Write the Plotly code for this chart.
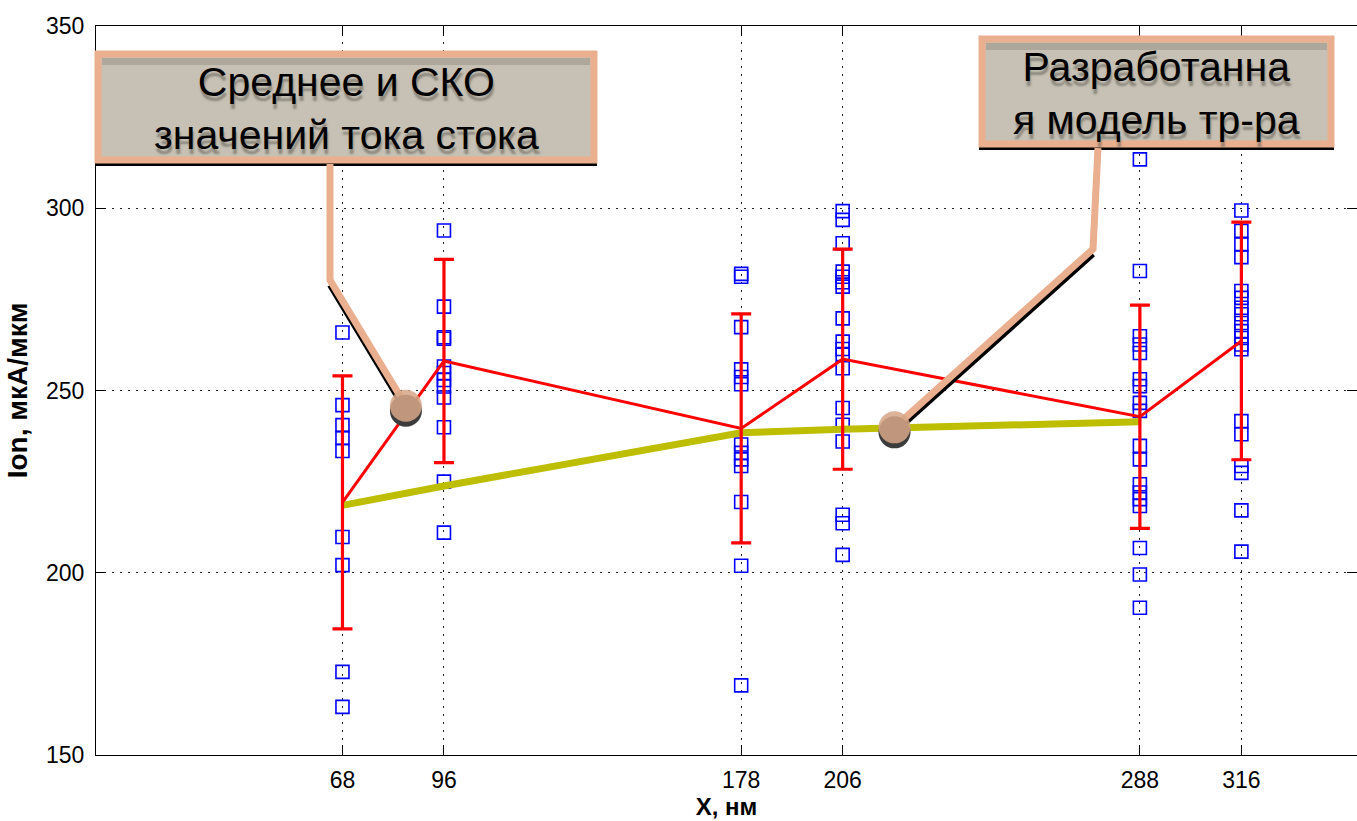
import plotly.graph_objects as go

# ---- data -------------------------------------------------------------
x_nm = [68, 96, 178, 206, 288, 316]

# measured Ion samples (mkA/mkm) for every gate position
ion_68 = [265.9, 246.0, 240.5, 237.0, 233.4, 209.8, 202.1, 172.8, 163.2]
ion_96 = [293.9, 273.0, 264.6, 264.2, 256.6, 254.8, 252.9, 251.1, 248.1,
          239.9, 225.0, 211.0]
ion_178 = [282.0, 281.2, 267.4, 255.8, 253.7, 251.7, 235.2, 232.9, 231.1,
           229.3, 219.4, 201.9, 169.1]
ion_206 = [299.2, 296.8, 290.4, 282.6, 281.2, 279.7, 278.5, 269.8, 263.4,
           261.4, 260.0, 256.1, 245.2, 240.6, 236.0, 215.9, 213.6, 204.9]
ion_288 = [313.4, 282.8, 264.9, 262.6, 260.3, 253.1, 251.2, 246.6, 244.4,
           234.8, 231.1, 224.3, 222.0, 220.2, 218.3, 206.8, 199.5, 190.4]
ion_316 = [299.4, 293.8, 290.1, 286.6, 277.3, 275.4, 272.7, 270.9, 268.5,
           266.3, 264.4, 262.6, 261.3, 241.6, 238.0, 229.3, 227.4, 217.1,
           205.8]
samples = [ion_68, ion_96, ion_178, ion_206, ion_288, ion_316]

# mean and standard deviation of the drain current
ion_mean = [219.3, 258.1, 239.6, 258.6, 242.8, 263.6]
ion_sd = [34.7, 27.9, 31.4, 30.2, 30.6, 32.6]

# developed transistor model
model_x = [68, 96, 178, 206, 288]
model_ion = [218.5, 223.8, 238.4, 239.4, 241.4]

x_ticks = [68, 96, 178, 206, 288, 316]
y_ticks = [150, 200, 250, 300, 350]

callout_mean = ["Среднее и СКО", "значений тока стока"]
callout_model = ["Разработанна", "я модель тр-ра"]

# ---- geometry of the plotting area -----------------------------------
W, H = 1357, 821
L, T, B, R = 96, 26, 66, 0
PW, PH = W - L - R, H - T - B
X_RANGE = [0, 347.9]
Y_RANGE = [150, 350]


def paper(px, py):
    """Window pixel -> paper coordinates."""
    return (px - L) / PW, (T + PH - py) / PH


def pix(xv, yv):
    """Data value -> window pixel."""
    px = L + (xv - X_RANGE[0]) / (X_RANGE[1] - X_RANGE[0]) * PW
    py = T + PH - (yv - Y_RANGE[0]) / (Y_RANGE[1] - Y_RANGE[0]) * PH
    return px, py


fig = go.Figure()

# individual samples
sx, sy = [], []
for xv, vals in zip(x_nm, samples):
    sx += [xv] * len(vals)
    sy += vals
fig.add_trace(go.Scatter(
    x=sx, y=sy, mode="markers",
    marker=dict(symbol="square-open", size=13, color="#0000FF",
                line=dict(width=1.6, color="#0000FF")),
    showlegend=False, hoverinfo="x+y"))

# model curve
fig.add_trace(go.Scatter(
    x=model_x, y=model_ion, mode="lines",
    line=dict(color="#BEBE00", width=7),
    showlegend=False))

# mean +/- SD
fig.add_trace(go.Scatter(
    x=x_nm, y=ion_mean, mode="lines",
    line=dict(color="#FF0000", width=3),
    error_y=dict(type="data", array=ion_sd, visible=True,
                 color="#FF0000", thickness=3.2, width=10),
    showlegend=False))

shapes = []
annotations = []


def rect(x0, y0, x1, y1, **kw):
    a, b = paper(x0, y1)
    c, d = paper(x1, y0)
    shapes.append(dict(type="rect", xref="paper", yref="paper",
                       x0=a, y0=b, x1=c, y1=d, layer="above", **kw))


def path(points, color, width):
    pts = [paper(px, py) for px, py in points]
    p = "M " + " L ".join(f"{a:.5f},{b:.5f}" for a, b in pts)
    shapes.append(dict(type="path", xref="paper", yref="paper", path=p,
                       line=dict(color=color, width=width), layer="above"))


def circle(cx, cy, r, **kw):
    a, b = paper(cx - r, cy + r)
    c, d = paper(cx + r, cy - r)
    shapes.append(dict(type="circle", xref="paper", yref="paper",
                       x0=a, y0=b, x1=c, y1=d, layer="above", **kw))


def callout(box, lines, text_mid, elbow, target):
    x0, y0, x1, y1 = box
    # drop shadow under the box
    rect(x0 - 3, y1 - 4, x1 + 3, y1 + 6, fillcolor="#000000",
         line=dict(width=0))
    # box body with tan frame
    rect(x0, y0, x1, y1, fillcolor="#C6C1B4",
         line=dict(color="#E9AF8E", width=7))
    rect(x0 + 4, y0 + 4, x1 - 4, y0 + 11, fillcolor="#ADA79C",
         line=dict(width=0))
    px, py = paper((x0 + x1) / 2, text_mid)
    annotations.append(dict(
        text="<br>".join(lines), x=px, y=py, xref="paper", yref="paper",
        xanchor="center", yanchor="middle", showarrow=False, align="center",
        font=dict(family="Liberation Sans, Arial, sans-serif", size=41,
                  color="#000000",
                  shadow="1px 5px 2px rgba(95,90,82,0.55)")))
    # leader line: from box bottom to elbow, then to the target point
    tx, ty = target
    start = (elbow[0] + (elbow[2] if len(elbow) > 2 else 0), y1 + 4)
    pts = [start, (elbow[0], elbow[1]), (tx, ty)]
    path([(p[0], p[1] + 5) for p in pts[1:]], "#000000", 6)
    path(pts, "#E9AF8E", 7)
    circle(tx, ty + 5, 16, fillcolor="#3C3C3C", line=dict(width=0))
    circle(tx, ty, 16, fillcolor="rgba(214,166,136,0.86)",
           line=dict(width=0))


# callout for the measured statistics (points at the 68..96 red segment)
t1 = pix(85.5, 245.8)
callout((98, 54, 594, 160), callout_mean, 109, (330, 280), t1)

# callout for the model curve
t2 = pix(220.3, 239.9)
callout((982, 39, 1331, 144), callout_model, 94, (1093, 249, 5), t2)

tick_font = dict(family="Liberation Sans, Arial, sans-serif", size=23,
                 color="#000000")

fig.update_layout(
    width=W, height=H,
    margin=dict(l=L, r=R, t=T, b=B, pad=0),
    paper_bgcolor="#FFFFFF", plot_bgcolor="#FFFFFF",
    shapes=shapes, annotations=annotations,
    xaxis=dict(
        range=X_RANGE, tickmode="array", tickvals=x_ticks,
        ticktext=[str(v) for v in x_ticks], tickfont=tick_font,
        ticks="inside", ticklen=10, tickwidth=1.3, tickcolor="#000000",
        showline=True, linecolor="#000000", linewidth=1.3, mirror="allticks",
        showgrid=True, gridcolor="#222222", gridwidth=1.2, griddash="2px,6px",
        zeroline=False, ticklabelstandoff=4,
        title=dict(text="<b>X, нм</b>", standoff=6,
                   font=dict(family="Liberation Sans, Arial, sans-serif",
                             size=24, color="#000000"))),
    yaxis=dict(
        range=Y_RANGE, tickmode="array", tickvals=y_ticks,
        ticktext=[str(v) for v in y_ticks], tickfont=tick_font,
        ticks="inside", ticklen=10, tickwidth=1.3, tickcolor="#000000",
        showline=True, linecolor="#000000", linewidth=1.3, mirror="allticks",
        showgrid=True, gridcolor="#222222", gridwidth=1.2, griddash="2px,6px",
        zeroline=False, ticklabelstandoff=6,
        title=dict(text="<b>Ion, мкА/мкм</b>", standoff=10,
                   font=dict(family="Liberation Sans, Arial, sans-serif",
                             size=28, color="#000000"))),
)

fig.write_html("out.html")
